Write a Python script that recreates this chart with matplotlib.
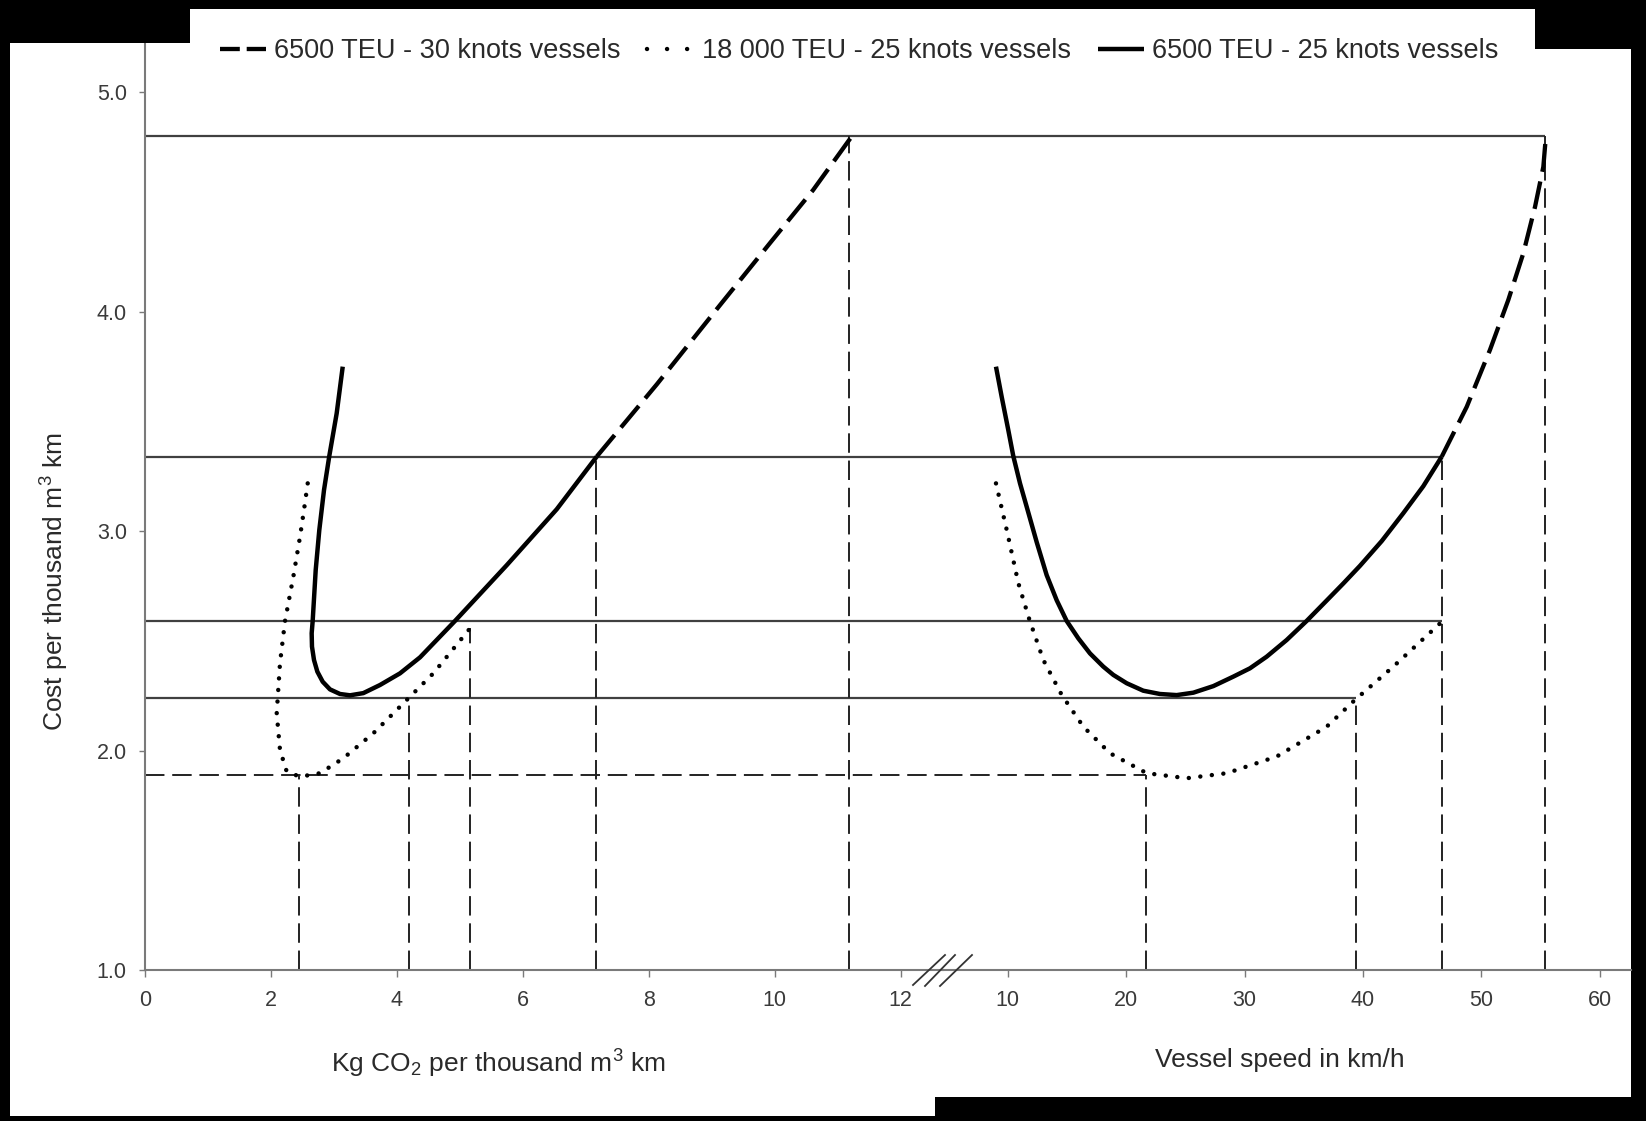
import matplotlib
matplotlib.use('Agg')
import matplotlib.pyplot as plt
from matplotlib.patches import Rectangle
from matplotlib.lines import Line2D

plt.rcParams['font.family'] = ['Liberation Sans', 'DejaVu Sans']
plt.rcParams['mathtext.fontset'] = 'custom'
plt.rcParams['mathtext.rm'] = 'Liberation Sans'
plt.rcParams['mathtext.it'] = 'Liberation Sans:italic'

# ---------- DATA ----------
# left panel: Kg CO2 per thousand m3 km  vs  cost
solid_co2 = [3.141, 3.045, 2.928, 2.844, 2.769, 2.712, 2.664, 2.648, 2.653, 2.685, 2.738,
             2.823, 2.939, 3.098, 3.257, 3.468, 3.733, 4.050, 4.368, 4.924, 5.745, 6.539,
             7.174]
solid_cost_l = [3.750, 3.537, 3.343, 3.188, 3.005, 2.823, 2.591, 2.535, 2.474, 2.413, 2.360,
                2.314, 2.279, 2.258, 2.252, 2.262, 2.299, 2.352, 2.425, 2.591, 2.845, 3.100,
                3.340]
dashed_co2 = [7.174, 8.13, 9.13, 9.93, 10.61, 11.20]
dashed_cost_l = [3.340, 3.67, 4.03, 4.315, 4.555, 4.79]
dotted_co2 = [2.585, 2.526, 2.463, 2.357, 2.225, 2.145, 2.093, 2.145, 2.252, 2.463, 2.780,
              3.150, 3.627, 4.050, 4.579, 5.162]
dotted_cost_l = [3.218, 3.097, 2.975, 2.793, 2.591, 2.398, 2.170, 2.003, 1.904, 1.881, 1.897,
                 1.965, 2.079, 2.200, 2.352, 2.557]

# right panel: vessel speed in km/h  vs  cost
solid_speed = [9.01, 9.49, 10.05, 10.47, 11.04, 11.60, 12.45, 13.29, 14.14, 14.98, 15.96,
               16.95, 18.07, 18.92, 20.05, 21.45, 22.86, 24.27, 25.68, 27.37, 29.05, 30.46,
               31.87, 33.56, 35.25, 36.94, 38.35, 39.75, 41.59, 43.41, 45.10, 46.66]
solid_cost_r = [3.750, 3.613, 3.461, 3.343, 3.218, 3.112, 2.950, 2.800, 2.685, 2.591, 2.512,
                2.443, 2.383, 2.345, 2.307, 2.273, 2.258, 2.253, 2.264, 2.294, 2.337, 2.375,
                2.428, 2.504, 2.591, 2.684, 2.762, 2.842, 2.955, 3.082, 3.205, 3.340]
dashed_speed = [46.66, 48.77, 50.73, 52.28, 53.55, 54.54, 55.24, 55.44]
dashed_cost_r = [3.340, 3.567, 3.826, 4.054, 4.267, 4.479, 4.661, 4.790]
dotted_speed = [9.01, 9.92, 10.90, 11.82, 13.01, 14.56, 16.39, 18.64, 21.74, 25.12, 28.50,
                32.72, 36.94, 39.33, 42.57, 46.52]
dotted_cost_r = [3.218, 3.005, 2.763, 2.599, 2.413, 2.254, 2.109, 1.988, 1.897, 1.874, 1.897,
                 1.973, 2.109, 2.231, 2.383, 2.580]

# reference lines
h_levels = [4.80, 3.34, 2.59, 2.24]
h_ends_speed = [55.40, 46.70, 46.70, 39.40]
low_level = 1.89
low_end_speed = 21.7
v_left_x = [2.44, 4.20, 5.16, 7.17, 11.18]
v_left_top = [1.89, 2.24, 2.56, 3.34, 4.80]
v_right_x = [21.7, 39.4, 46.7, 55.35]
v_right_top = [1.89, 2.24, 3.34, 4.80]

y_ticks = [1.0, 2.0, 3.0, 4.0, 5.0]
co2_ticks = [0, 2, 4, 6, 8, 10, 12]
speed_ticks = [10, 20, 30, 40, 50, 60]

labels = ['6500 TEU - 30 knots vessels', '18 000 TEU - 25 knots vessels',
          '6500 TEU - 25 knots vessels']

# ---------- FIGURE ----------
W, H = 1646, 1121
fig = plt.figure(figsize=(W / 100, H / 100), dpi=100, facecolor='black')


def fx(px):
    return px / W


def fy(py):
    return 1 - py / H


# white page + scan borders
fig.patches.append(Rectangle((fx(10), fy(1116)), fx(1631 - 10), (1116 - 9) / H,
                             transform=fig.transFigure, facecolor='white',
                             edgecolor='none', zorder=-10))
for x0, y0, x1, y1 in [(0, 0, 190, 43), (1535, 0, W, 49), (935, 1097, W, H)]:
    fig.patches.append(Rectangle((fx(x0), fy(y1)), fx(x1 - x0), (y1 - y0) / H,
                                 transform=fig.transFigure, facecolor='black',
                                 edgecolor='none', zorder=10))

y_bot, y_top = 970, 43
split = 943
ax_l = fig.add_axes([fx(144.9), fy(y_bot), fx(split - 144.9), (y_bot - y_top) / H])
ax_r = fig.add_axes([fx(split), fy(y_bot), fx(1631 - split), (y_bot - y_top) / H])

ymax = 1 + (y_bot - y_top) / 219.4
ax_l.set_xlim(0, (split - 144.9) / 62.98)
ax_r.set_xlim(10 - (1007.7 - split) / 11.84, 10 + (1631 - 1007.7) / 11.84)
for ax in (ax_l, ax_r):
    ax.set_ylim(1.0, ymax)
    ax.set_facecolor('none')
    for s in ('top', 'right'):
        ax.spines[s].set_visible(False)
    ax.spines['bottom'].set_color('#7a7a7a')
    ax.spines['bottom'].set_linewidth(1.5)
    ax.tick_params(axis='x', direction='out', length=5, width=1.0, color='#7a7a7a',
                   labelsize=15.5, labelcolor='#3a3a3a', pad=9.5)
ax_l.spines['left'].set_color('#7a7a7a')
ax_l.spines['left'].set_linewidth(1.5)
ax_r.spines['left'].set_visible(False)
ax_l.tick_params(axis='y', direction='out', length=4.5, width=1.0, color='#7a7a7a',
                 labelsize=15.5, labelcolor='#3a3a3a', pad=8.5)
ax_r.tick_params(axis='y', left=False, labelleft=False)

ax_l.set_yticks(y_ticks)
ax_l.set_yticklabels([f'{v:.1f}' for v in y_ticks])
ax_l.set_xticks(co2_ticks)
ax_r.set_xticks(speed_ticks)

hcol = '#404040'
vstyle = dict(color='#222222', lw=1.4, linestyle=(0, (10, 4)))

# horizontal reference lines
for lev, end in zip(h_levels, h_ends_speed):
    ax_l.axhline(lev, color=hcol, lw=1.6, zorder=2)
    ax_r.hlines(lev, ax_r.get_xlim()[0], end, color=hcol, lw=1.6, zorder=2)
ax_l.axhline(low_level, **vstyle, zorder=2)
ax_r.hlines(low_level, ax_r.get_xlim()[0], low_end_speed, zorder=2, **vstyle)

# vertical dashed drops
ax_l.vlines(v_left_x, 1.0, v_left_top, zorder=2, **vstyle)
ax_r.vlines(v_right_x, 1.0, v_right_top, zorder=2, **vstyle)

# curves
dash_style = dict(color='black', lw=3.1, linestyle=(0, (6.5, 2.3)), dash_capstyle='butt')
dot_style = dict(color='black', lw=3.2, linestyle=(0, (0.01, 2.6)), dash_capstyle='round')
solid_style = dict(color='black', lw=3.2, solid_capstyle='butt', solid_joinstyle='round')

ax_l.plot(dashed_co2, dashed_cost_l, zorder=4, **dash_style)
ax_l.plot(dotted_co2, dotted_cost_l, zorder=4, **dot_style)
ax_l.plot(solid_co2, solid_cost_l, zorder=5, **solid_style)
ax_r.plot(dashed_speed, dashed_cost_r, zorder=4, **dash_style)
ax_r.plot(dotted_speed, dotted_cost_r, zorder=4, **dot_style)
ax_r.plot(solid_speed, solid_cost_r, zorder=5, **solid_style)

# axis break marks
for (x0, y0, x1, y1) in [(913, 985, 945, 955), (925, 986, 955, 955), (940, 986, 972, 955)]:
    fig.add_artist(Line2D([fx(x0), fx(x1)], [fy(y0), fy(y1)], color='#333333', lw=1.3))

# axis titles
fig.text(fx(55), fy(582), 'Cost per thousand m$^3$ km', rotation=90, ha='center',
         va='center', fontsize=19, color='#2a2a2a')
fig.text(fx(498), fy(1064), 'Kg CO$_2$ per thousand m$^3$ km', ha='center', va='center',
         fontsize=19, color='#2a2a2a')
fig.text(fx(1280), fy(1060), 'Vessel speed in km/h', ha='center', va='center',
         fontsize=19, color='#2a2a2a')

# legend (handles spaced so two dashes / three dots fit, as in the original)
leg_dash = dict(dash_style, linestyle=(0, (4.6, 1.6)))
leg_dot = dict(dot_style, linestyle=(0, (0.01, 4.5)))
handles = [Line2D([], [], **leg_dash), Line2D([], [], **leg_dot),
           Line2D([], [], **solid_style)]
fig.legend(handles, labels, loc='center', bbox_to_anchor=(fx(859), fy(51)), ncol=3,
           frameon=False, fontsize=19.5, handlelength=1.7, handletextpad=0.3,
           columnspacing=1.0, labelcolor='#2a2a2a')

fig.savefig('out.png', dpi=100, facecolor=fig.get_facecolor())
